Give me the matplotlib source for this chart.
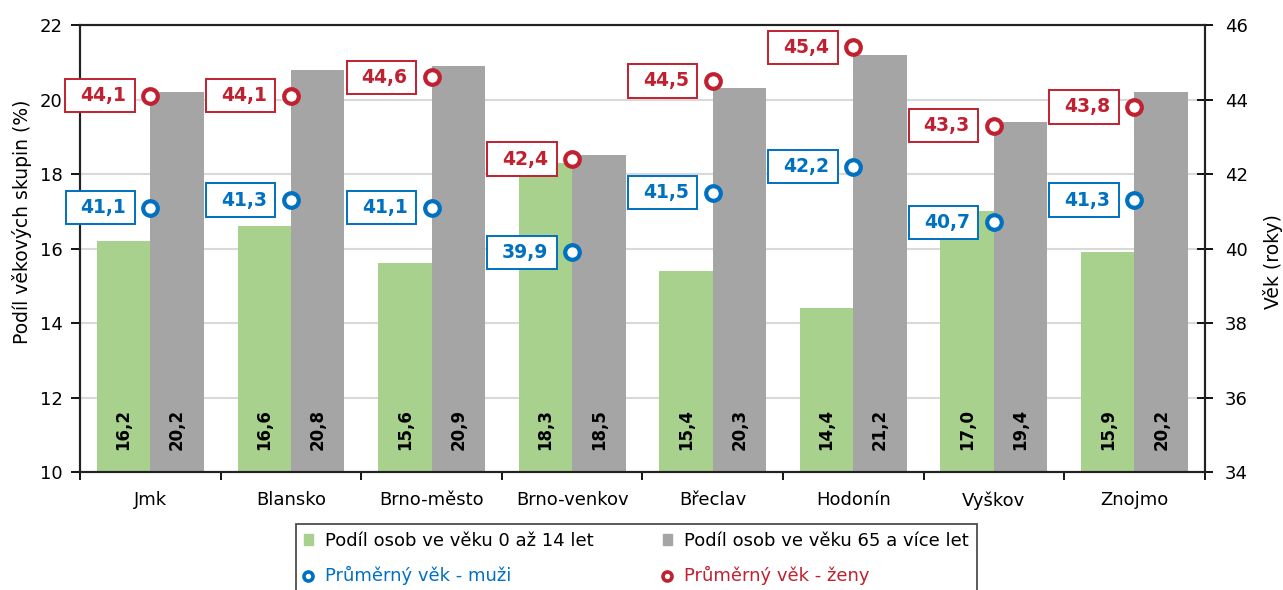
import numpy as np
import matplotlib
matplotlib.use("Agg")
import matplotlib.pyplot as plt
from matplotlib.lines import Line2D
from matplotlib.patches import Patch
from matplotlib.path import Path

plt.rcParams["font.family"] = ["DejaVu Sans"]

# data
okresy = ["Jmk", "Blansko", "Brno-město", "Brno-venkov", "Břeclav",
          "Hodonín", "Vyškov", "Znojmo"]
podil_0_14 = [16.2, 16.6, 15.6, 18.3, 15.4, 14.4, 17.0, 15.9]
podil_65 = [20.2, 20.8, 20.9, 18.5, 20.3, 21.2, 19.4, 20.2]
vek_muzi = [41.1, 41.3, 41.1, 39.9, 41.5, 42.2, 40.7, 41.3]
vek_zeny = [44.1, 44.1, 44.6, 42.4, 44.5, 45.4, 43.3, 43.8]

zelena = "#A9D18E"
seda = "#A5A5A5"
modra = "#0070C0"
cervena = "#C0202F"


# ramecek popisku - vic mista vlevo nez vpravo (jako v Excelu)
def ramecek(x0, y0, width, height, mutation_size):
    l, r, v = 0.8 * mutation_size, 0.45 * mutation_size, 0.38 * mutation_size
    return Path([(x0 - l, y0 - v), (x0 + width + r, y0 - v),
                 (x0 + width + r, y0 + height + v), (x0 - l, y0 + height + v),
                 (x0 - l, y0 - v)], closed=True)


fig = plt.figure(figsize=(12.83, 5.90), dpi=100)
ax = fig.add_axes([0.0624, 0.2, 0.8766, 0.7576])
ax2 = ax.twinx()

x = np.arange(len(okresy))
w = 0.38
ax.bar(x - w / 2, np.array(podil_0_14) - 10, w, bottom=10, color=zelena, zorder=2)
ax.bar(x + w / 2, np.array(podil_65) - 10, w, bottom=10, color=seda, zorder=2)

for xi, v in zip(x - w / 2, podil_0_14):
    ax.text(xi, 10.58, f"{v:.1f}".replace(".", ","), rotation=90, ha="center",
            va="bottom", fontsize=12, fontweight="bold", zorder=3)
for xi, v in zip(x + w / 2, podil_65):
    ax.text(xi, 10.58, f"{v:.1f}".replace(".", ","), rotation=90, ha="center",
            va="bottom", fontsize=12, fontweight="bold", zorder=3)

ax.set_xlim(-0.5, len(okresy) - 0.5)
ax.set_ylim(10, 22)
ax.set_yticks(np.arange(10, 23, 2))
ax.yaxis.grid(True, color="#D9D9D9", lw=1.5)
ax.set_axisbelow(True)
ax.set_xticks(np.arange(-0.5, len(okresy), 1))
ax.set_xticklabels([])
ax.set_xticks(x, minor=True)
ax.set_xticklabels(okresy, minor=True, fontsize=13)
ax.tick_params(axis="x", which="minor", length=0, pad=14)
ax.tick_params(axis="x", which="major", length=6, width=1.3, direction="out")
ax.tick_params(axis="y", length=6.5, width=1.3, direction="out", labelsize=13, pad=6)
ax.set_ylabel("Podíl věkových skupin (%)", fontsize=13.5)
ax.yaxis.set_label_coords(-0.043, 0.56)

ax2.set_ylim(34, 46)
ax2.set_yticks(np.arange(34, 47, 2))
ax2.tick_params(axis="y", length=11, width=1.3, direction="inout", labelsize=13, pad=9)
ax2.set_ylabel("Věk (roky)", fontsize=13.5)
ax2.yaxis.set_label_coords(1.052, 0.47)

for a in (ax, ax2):
    for s in a.spines.values():
        s.set_linewidth(1.5)
        s.set_color("#222222")

ax2.plot(x, vek_muzi, "o", ms=10.5, mfc="white", mec=modra, mew=3, zorder=5)
ax2.plot(x, vek_zeny, "o", ms=10.5, mfc="white", mec=cervena, mew=3, zorder=5)

for xi, v in zip(x, vek_muzi):
    ax2.annotate(f"{v:.1f}".replace(".", ","), (xi, v), xytext=(-24, 0),
                 textcoords="offset pixels", ha="right", va="center",
                 fontsize=13.5, fontweight="bold", color=modra,
                 bbox=dict(boxstyle=ramecek, fc="white", ec=modra, lw=1.4))
for xi, v in zip(x, vek_zeny):
    ax2.annotate(f"{v:.1f}".replace(".", ","), (xi, v), xytext=(-24, 0),
                 textcoords="offset pixels", ha="right", va="center",
                 fontsize=13.5, fontweight="bold", color=cervena,
                 bbox=dict(boxstyle=ramecek, fc="white", ec=cervena, lw=1.4))

# poradi tak, aby se legenda plnila po radcich
handles = [
    Patch(color=zelena, label="Podíl osob ve věku 0 až 14 let"),
    Line2D([], [], ls="none", marker="o", ms=6.5, mfc="white", mec=modra, mew=2.6,
           label="Průměrný věk - muži"),
    Patch(color=seda, label="Podíl osob ve věku 65 a více let"),
    Line2D([], [], ls="none", marker="o", ms=6.5, mfc="white", mec=cervena, mew=2.6,
           label="Průměrný věk - ženy"),
]
leg = fig.legend(handles=handles, ncol=2, loc="upper center",
                 bbox_to_anchor=(0.496, 0.112), borderaxespad=0,
                 fontsize=13, frameon=True,
                 fancybox=False, edgecolor="#222222", handlelength=0.5,
                 handleheight=0.5, columnspacing=3.8, borderpad=0.45,
                 labelspacing=0.9, handletextpad=0.7)
leg.get_frame().set_linewidth(1.3)
leg.get_texts()[1].set_color(modra)
leg.get_texts()[3].set_color(cervena)

fig.savefig("out.png", dpi=100)
